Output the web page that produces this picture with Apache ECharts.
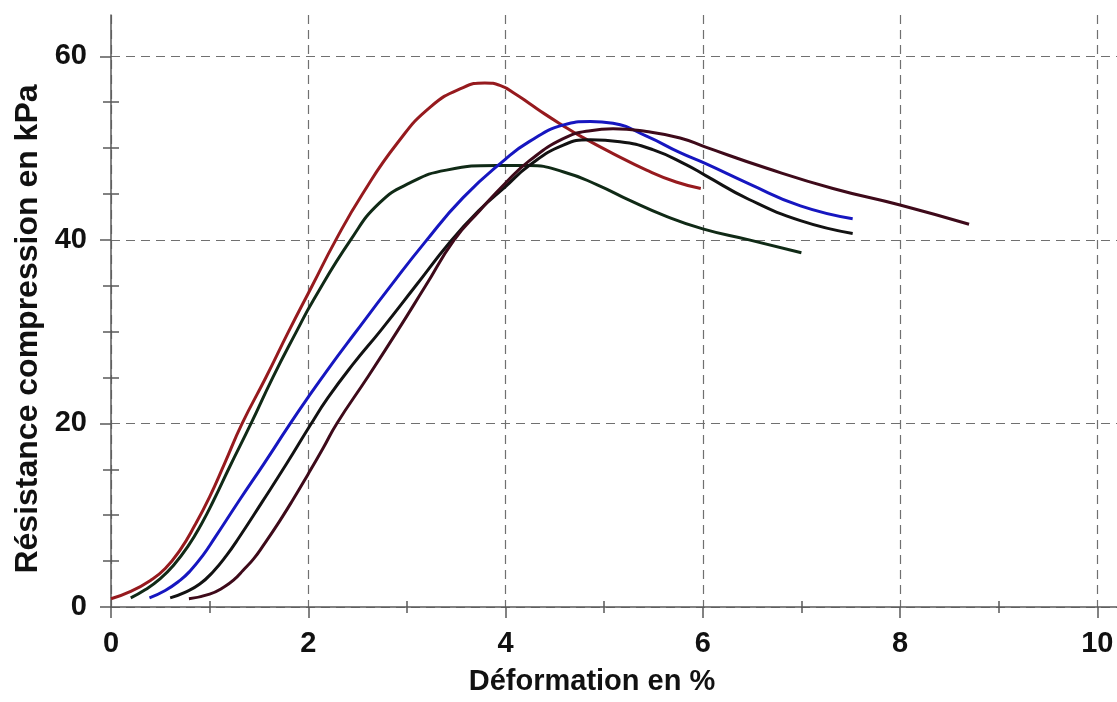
<!DOCTYPE html>
<html>
<head>
<meta charset="utf-8">
<script src="https://cdn.jsdelivr.net/npm/echarts@6/dist/echarts.min.js"></script>
<style>
  html, body { margin: 0; padding: 0; background: #ffffff; }
  #chart { width: 1117px; height: 702px; }
</style>
</head>
<body>
<div id="chart"></div>
<script>
// ---- data ----
const xTickValues = [0, 2, 4, 6, 8, 10];
const xMinorTickValues = [1, 3, 5, 7, 9];
const yTickValues = [0, 20, 40, 60];
const yMinorTickValues = [5, 10, 15, 25, 30, 35, 45, 50, 55];

const xTitle = 'Déformation en %';
const yTitle = 'Résistance compression en kPa';

const curveRed = [[0,0.9],[0.2,1.7],[0.4,2.9],[0.55,4.2],[0.7,6.2],[0.85,8.9],[1.0,12],[1.15,15.6],[1.33,20],[1.57,25],[1.8,30],[2.04,35],[2.28,40],[2.55,45],[2.9,50.5],[3.24,54.5],[3.57,56.6],[3.79,57.1],[3.95,56.8],[4.1,55.9],[4.25,54.8],[4.4,53.7],[4.56,52.6],[4.76,51.3],[5.09,49.4],[5.43,47.6],[5.73,46.3],[5.98,45.6]];
const curveGreen = [[0.2,1.0],[0.35,1.9],[0.5,3.1],[0.63,4.5],[0.78,6.6],[0.92,9.1],[1.04,11.6],[1.2,15.2],[1.42,20],[1.64,25],[1.88,30],[2.05,33.4],[2.43,40],[2.72,44],[3.03,46.2],[3.4,47.6],[3.91,48.1],[4.24,48.1],[4.59,47.4],[4.93,46.0],[5.26,44.3],[5.6,42.7],[6.0,41.2],[6.47,40.0],[7.0,38.6]];
const curveBlue = [[0.39,1.0],[0.55,1.8],[0.7,2.9],[0.8,3.9],[0.93,5.6],[1.05,7.5],[1.3,11.6],[1.55,15.6],[1.8,19.7],[1.97,22.4],[2.22,26.2],[2.47,29.8],[2.83,34.9],[3.18,39.7],[3.57,44.6],[4.0,48.8],[4.24,50.7],[4.58,52.5],[4.86,52.9],[5.09,52.7],[5.43,51.3],[5.77,49.5],[6.03,48.3],[6.47,46.1],[6.99,43.7],[7.52,42.3]];
const curveBlack = [[0.6,1.0],[0.75,1.6],[0.9,2.5],[1.04,3.9],[1.17,5.6],[1.3,7.6],[1.53,11.4],[1.78,15.6],[2.02,19.8],[2.2,22.8],[2.45,26.4],[2.74,30.2],[3.09,35],[3.44,39.8],[3.74,43.3],[4.0,45.8],[4.24,48.1],[4.58,50.3],[4.86,50.9],[5.16,50.7],[5.5,49.8],[5.83,48.2],[6.03,47.0],[6.47,44.4],[6.99,42.1],[7.52,40.7]];
const curveMaroon = [[0.79,0.9],[1.0,1.4],[1.15,2.2],[1.25,3.0],[1.34,4.0],[1.45,5.3],[1.55,6.8],[1.7,9.2],[1.84,11.6],[2.0,14.5],[2.15,17.3],[2.29,20],[2.6,25],[2.9,30],[3.19,35],[3.48,40],[3.74,43.2],[4.0,46.2],[4.24,48.6],[4.58,51.0],[4.86,51.9],[5.09,52.1],[5.43,51.8],[5.77,51.1],[6.03,50.1],[6.65,47.8],[7.32,45.6],[8.0,43.8],[8.7,41.7]];

const seriesNames = ['Essai 1', 'Essai 2', 'Essai 3', 'Essai 4', 'Essai 5'];
const seriesColors = ['#961a1e', '#102a16', '#1616c0', '#121212', '#3e0a1a'];
const seriesData = [curveRed, curveGreen, curveBlue, curveBlack, curveMaroon];

// ---- chart ----
const FONT = '"Liberation Sans", Arial, Helvetica, sans-serif';
const AXIS_COLOR = '#5a5a5a';
const X_MIN = 0, X_MAX = 10.2, Y_MIN = 0, Y_MAX = 64.5;

const chart = echarts.init(document.getElementById('chart'), null, { renderer: 'canvas' });

function baseX(extra) {
  return Object.assign({
    type: 'value', position: 'bottom', min: X_MIN, max: X_MAX,
    axisLine: { show: false, onZero: false },
    axisLabel: { show: false },
    splitLine: { show: false },
    axisTick: { show: false }
  }, extra);
}
function baseY(extra) {
  return Object.assign({
    type: 'value', position: 'left', min: Y_MIN, max: Y_MAX,
    axisLine: { show: false, onZero: false },
    axisLabel: { show: false },
    splitLine: { show: false },
    axisTick: { show: false }
  }, extra);
}

const option = {
  backgroundColor: '#ffffff',
  animation: false,
  grid: { left: 111, right: 0, top: 15, bottom: 95, containLabel: false, outerBoundsMode: 'none' },
  xAxis: [
    baseX({
      interval: 2,
      name: xTitle,
      nameLocation: 'middle',
      nameGap: 60,
      nameTextStyle: { fontFamily: FONT, fontWeight: 'bold', fontSize: 29, color: '#111', padding: [0, 44, 0, 0] },
      axisLine: { show: true, onZero: false, lineStyle: { color: AXIS_COLOR, width: 1.5 } },
      axisTick: { show: true, inside: false, length: 11, customValues: xTickValues, lineStyle: { color: AXIS_COLOR, width: 1.5 } },
      axisLabel: { show: true, customValues: xTickValues, margin: 22, fontFamily: FONT, fontWeight: 'bold', fontSize: 29, color: '#111' },
      splitLine: { show: true, lineStyle: { color: '#707070', width: 1.2, type: [9, 6] } }
    }),
    baseX({
      interval: 1,
      axisTick: { show: true, inside: true, length: 6, customValues: xMinorTickValues, lineStyle: { color: AXIS_COLOR, width: 1.5 } }
    }),
    baseX({
      interval: 1,
      axisTick: { show: true, inside: false, length: 6, customValues: xMinorTickValues, lineStyle: { color: AXIS_COLOR, width: 1.5 } }
    })
  ],
  yAxis: [
    baseY({
      interval: 20,
      name: yTitle,
      nameLocation: 'middle',
      nameGap: 67,
      nameTextStyle: { fontFamily: FONT, fontWeight: 'bold', fontSize: 32, color: '#111', padding: [0, 36, 0, 0] },
      axisLine: { show: true, onZero: false, lineStyle: { color: AXIS_COLOR, width: 1.5 } },
      axisTick: { show: true, inside: false, length: 11, customValues: yTickValues, lineStyle: { color: AXIS_COLOR, width: 1.5 } },
      axisLabel: { show: true, customValues: yTickValues, margin: 24, fontFamily: FONT, fontWeight: 'bold', fontSize: 29, color: '#111' },
      splitLine: { show: true, lineStyle: { color: '#707070', width: 1.2, type: [9, 6] } }
    }),
    baseY({
      interval: 5,
      axisTick: { show: true, inside: true, length: 8, customValues: yMinorTickValues, lineStyle: { color: AXIS_COLOR, width: 1.5 } }
    }),
    baseY({
      interval: 5,
      axisTick: { show: true, inside: false, length: 8, customValues: yMinorTickValues, lineStyle: { color: AXIS_COLOR, width: 1.5 } }
    })
  ],
  series: seriesData.map((d, i) => ({
    name: seriesNames[i],
    type: 'line',
    xAxisIndex: 0,
    yAxisIndex: 0,
    data: d,
    smooth: 0.5,
    showSymbol: false,
    symbol: 'none',
    lineStyle: { color: seriesColors[i], width: 3 },
    itemStyle: { color: seriesColors[i] },
    z: 3 + i
  }))
};

chart.setOption(option);
</script>
</body>
</html>
